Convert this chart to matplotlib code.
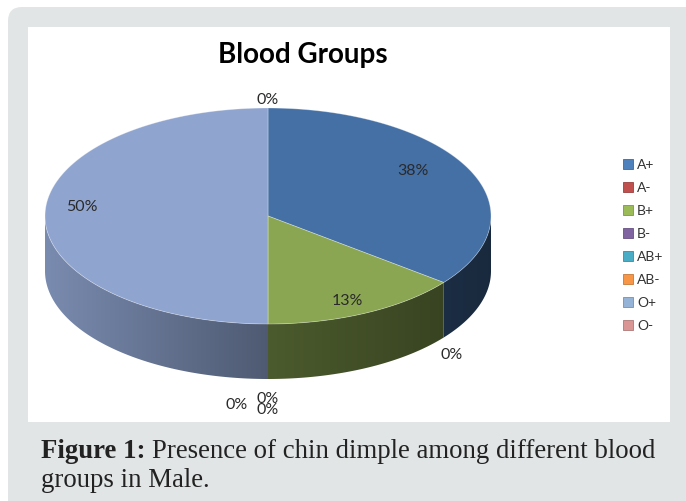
import numpy as np
import matplotlib
matplotlib.use("Agg")
import matplotlib.pyplot as plt
from matplotlib.patches import Polygon, FancyBboxPatch, Rectangle
from matplotlib.colors import to_rgb

# data
groups = ['A+', 'A-', 'B+', 'B-', 'AB+', 'AB-', 'O+', 'O-']
counts = [3, 0, 1, 0, 0, 0, 4, 0]
legend_colors = ['#4f81bd', '#c0504d', '#9bbb59', '#8064a2',
                 '#4bacc6', '#f79646', '#95b3d7', '#d99694']
top_colors = ['#4470a6', '#b04a47', '#8aa652', '#76609a',
              '#45a0b8', '#e58a40', '#8fa4cf', '#cf8c8a']
# label positions (pixels), one per group
label_pos = [(413, 171), (452, 355), (347, 301), (237, 405),
             (268, 399), (268, 410), (82, 207), (268, 100)]

W, H = 686, 502
fig = plt.figure(figsize=(W / 100, H / 100), dpi=100)
ax = fig.add_axes([0, 0, 1, 1])
ax.set_xlim(0, W)
ax.set_ylim(H, 0)
ax.axis('off')

# frame
ax.add_patch(FancyBboxPatch((8, 8), W + 20, H + 10,
                            boxstyle="round,pad=0,rounding_size=14",
                            fc='#e1e5e6', ec='none'))
ax.add_patch(Rectangle((28, 28), 642, 395, fc='white', ec='none'))

# 3d pie geometry
cx, cy, a, b, depth = 268, 217, 223, 108, 55


def pt(t):
    # small perspective warp of the angle (front half looks wider)
    r = np.radians(t)
    r = r - np.radians(14) * np.sin(r) * np.abs(np.cos(r))
    return cx + a * np.sin(r), cy - b * np.cos(r)


def shade(x):
    s = (cx - x) / a
    return np.where(s > 0, 0.55 + 0.3 * s, 0.55 + 0.18 * s)


fracs = np.array(counts) / sum(counts)
starts = np.concatenate([[0], np.cumsum(fracs)[:-1]]) * 360
ends = starts + fracs * 360

# side walls (front half only: 90..270 deg clockwise from top)
for i in range(len(groups)):
    lo, hi = max(starts[i], 90), min(ends[i], 270)
    if hi <= lo:
        continue
    base = np.array(to_rgb(top_colors[i]))
    ts = np.linspace(lo, hi, 200)
    xs, ys = pt(ts)
    verts = list(zip(xs, ys)) + list(zip(xs[::-1], ys[::-1] + depth))
    wall = Polygon(verts, closed=True, fc='none', ec='none')
    ax.add_patch(wall)
    x0, x1 = xs.min(), xs.max()
    gx = np.linspace(x0, x1, 300)
    img = (shade(gx)[:, None] * base[None, :])[None, :, :]
    im = ax.imshow(img, extent=(x0 - 1, x1 + 1, ys.max() + depth + 2, ys.min() - 2),
                   aspect='auto', interpolation='bilinear', zorder=1)
    im.set_clip_path(wall)

# top face
for i in range(len(groups)):
    if ends[i] - starts[i] <= 0:
        continue
    ts = np.linspace(starts[i], ends[i], 200)
    xs, ys = pt(ts)
    verts = [(cx, cy)] + list(zip(xs, ys))
    ax.add_patch(Polygon(verts, closed=True, fc=top_colors[i],
                         ec=(1, 1, 1, 0.35), lw=0.6, zorder=2))

# percentage labels
for i, g in enumerate(groups):
    x, y = label_pos[i]
    ax.text(x, y, f"{int(fracs[i] * 100 + 0.5)}%", ha='center', va='center',
            fontsize=11.5, family='Lato', color='#2a2a2a', zorder=3)

# title
ax.text(303, 55, 'Blood Groups', ha='center', va='center',
        fontsize=20, family='Lato', weight='bold', color='black')

# legend
for i, g in enumerate(groups):
    y = 165 + i * 23
    ax.add_patch(Rectangle((623, y - 5), 10, 10, fc=legend_colors[i],
                           ec=(np.array(to_rgb(legend_colors[i])) * 0.8), lw=0.6))
    ax.text(637, y, g, ha='left', va='center', fontsize=10,
            family='Lato', color='#333333')

# caption
cap_font = 'Liberation Serif'
cap_size = 19.3
t1 = ax.text(41, 452, 'Figure 1:', ha='left', va='center', fontsize=cap_size,
             family=cap_font, weight='bold', color='#222222')
fig.canvas.draw()
x_end = ax.transData.inverted().transform((t1.get_window_extent().x1, 0))[0]
ax.text(x_end + 6, 452, 'Presence of chin dimple among different blood',
        ha='left', va='center', fontsize=cap_size, family=cap_font, color='#222222')
ax.text(41, 481, 'groups in Male.', ha='left', va='center', fontsize=cap_size,
        family=cap_font, color='#222222')

ax.set_xlim(0, W)
ax.set_ylim(H, 0)
fig.savefig('out.png', dpi=100)
